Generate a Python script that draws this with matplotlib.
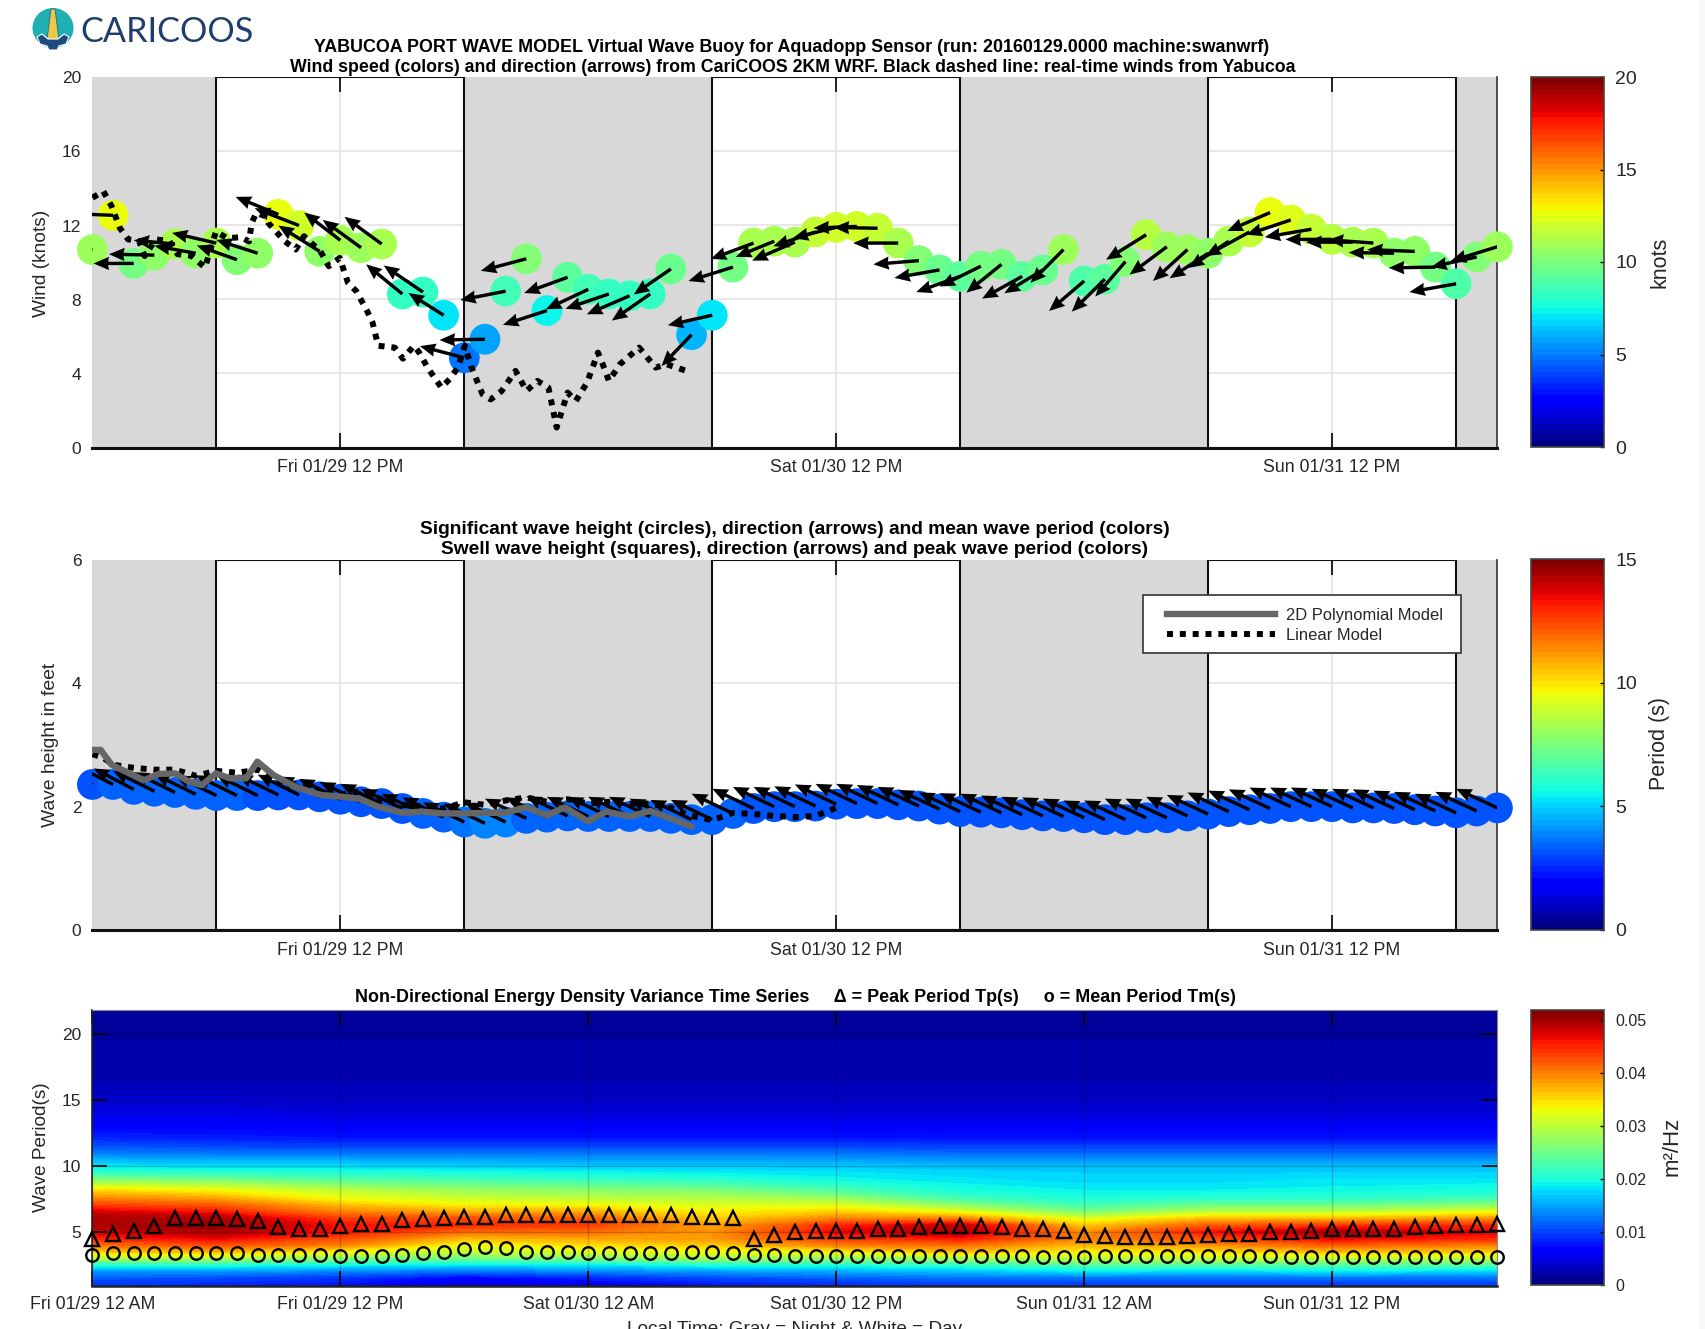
import matplotlib
matplotlib.use("Agg")
import matplotlib.pyplot as plt
import numpy as np
from matplotlib.patches import Rectangle, Ellipse, Polygon
from matplotlib.cm import ScalarMappable
from matplotlib.colors import Normalize

W, H = 1705, 1329
plt.rcParams['font.family'] = ['Liberation Sans', 'DejaVu Sans']

hours = list(range(69))
night_spans = [(0, 6), (18, 30), (42, 54), (66, 68)]

wind_speed = [10.7,12.55,9.95,10.4,11.0,10.5,11.05,10.15,10.5,12.6,12.0,10.6,11.2,10.8,11.0,8.3,8.4,7.15,4.85,5.85,
              8.45,10.2,7.4,9.2,8.55,8.3,8.2,8.3,9.65,6.1,7.15,9.75,11.05,11.15,11.1,11.65,11.9,11.95,11.85,11.05,
              10.1,9.6,9.25,9.8,9.9,9.25,9.6,10.7,9.0,9.1,10.05,11.5,10.85,10.7,10.5,11.15,11.65,12.7,12.3,11.8,
              11.25,11.1,11.05,10.5,10.6,9.75,8.85,10.3,10.85]
wind_dx = [-2.2,-2.2,-1.95,-2.2,-2.0,-2.0,-2.15,-1.95,-2.0,-2.07,-2.15,-2.0,-1.75,-1.85,-1.8,-1.75,-1.9,-1.7,-2.15,-2.2,
           -2.2,-2.2,-2.13,-2.1,-2.05,-2.1,-2.07,-1.86,-1.8,-1.46,-2.15,-2.15,-2.07,-1.86,-2.07,-2.05,-2.1,-2.1,-2.13,-2.18,
           -2.2,-2.18,-2.13,-2.0,-1.7,-1.94,-1.86,-1.6,-1.7,-1.6,-1.46,-1.94,-1.8,-1.67,-1.86,-1.94,-2.13,-2.07,-2.15,-2.26,
           -2.26,-2.26,-2.2,-2.2,-2.3,-2.26,-2.26,-2.2,-2.26]
wind_dy = [0.0,0.1,0.0,0.05,0.2,0.4,0.55,0.77,0.72,0.95,0.93,1.4,1.5,1.5,1.47,1.6,1.44,1.2,0.63,-0.04,
           -0.48,-0.65,-0.77,-0.85,-1.08,-0.8,-1.0,-1.44,-1.38,-1.7,-0.54,-0.75,-0.86,-0.85,-1.0,-0.77,-0.58,-0.09,0.05,0.0,
           -0.2,-0.43,-0.85,-1.1,-1.53,-1.2,-1.26,-1.8,-1.62,-1.76,-1.89,-1.35,-1.5,-1.7,-1.35,-1.44,-1.3,-1.0,-0.8,-0.43,
           0.0,0.0,0.18,0.04,0.1,-0.04,-0.45,-0.54,-0.77]
obs_hours = [0,.53,.93,1.33,1.73,2.26,2.53,3.06,3.72,4.12,4.79,5.45,5.98,6.52,7.18,7.58,7.71,7.93,8.38,8.51,
             9.31,9.84,10.24,11.04,11.44,11.97,12.37,12.77,13.3,13.56,13.83,14.63,15.03,15.56,15.82,16.22,16.89,17.29,17.69,18.03,
             18.35,18.88,19.28,19.81,20.48,21.01,21.54,22.07,22.47,23.0,23.4,23.94,24.47,24.73,25.0,25.53,26.46,27.26,27.79,28.99]
obs_wind = [13.5,13.85,13.04,11.86,11.25,11.16,10.35,11.25,11.16,10.45,10.36,9.73,11.68,11.31,11.37,11.14,12.14,12.68,12.5,12.14,
            11.15,10.7,11.42,10.6,9.8,10.25,8.9,8.45,7.37,6.75,5.5,5.4,4.8,5.5,5.13,4.32,3.24,3.7,4.32,5.5,
            4.32,2.88,2.6,3.06,4.14,3.06,3.6,3.24,1.08,2.97,2.52,3.51,5.13,4.41,3.6,4.5,5.4,4.32,4.5,4.05]

wave_height = [2.36,2.36,2.28,2.25,2.23,2.2,2.18,2.18,2.18,2.19,2.19,2.16,2.12,2.08,2.05,1.97,1.89,1.83,1.75,1.73,
               1.75,1.81,1.83,1.85,1.84,1.84,1.84,1.84,1.81,1.79,1.79,1.89,1.97,2.0,2.0,2.01,2.04,2.05,2.05,2.03,
               2.01,1.96,1.92,1.91,1.9,1.87,1.85,1.84,1.82,1.79,1.79,1.82,1.82,1.85,1.88,1.92,1.95,1.97,2.0,2.0,
               2.0,1.98,1.98,1.97,1.95,1.93,1.9,1.93,1.98]
wave_dx = [-2.0,-2.0,-1.94,-2.0,-2.0,-2.0,-2.0,-2.0,-2.0,-2.0,-2.0,-2.0,-2.0,-2.0,-2.0,-2.0,-2.0,-2.0,-2.0,-2.0,
           -2.0,-2.0,-2.0,-2.0,-2.0,-2.0,-2.0,-2.0,-2.0,-2.0,-2.0,-2.0,-2.0,-2.0,-2.0,-2.0,-2.0,-2.0,-2.0,-2.0,
           -2.0,-2.0,-2.0,-2.0,-2.0,-2.0,-2.0,-2.0,-2.0,-2.0,-2.0,-2.0,-2.0,-2.0,-2.0,-2.0,-2.0,-2.0,-2.0,-2.0,
           -2.0,-2.0,-2.0,-2.0,-2.0,-2.0,-2.0,-2.0,-2.0]
wave_dy = [.34,.34,.34,.33,.33,.33,.33,.33,.33,.33,.33,.33,.33,.32,.32,.32,.32,.32,.32,.32,
           .32,.32,.32,.32,.32,.32,.32,.32,.32,.32,.32,.32,.32,.32,.32,.32,.32,.32,.32,.32,
           .31,.31,.31,.31,.31,.31,.31,.31,.31,.31,.31,.31,.31,.31,.31,.31,.31,.31,.31,.31,
           .31,.31,.31,.31,.31,.31,.31,.31,.31]
poly_hours = [0,.4,.93,1.6,2.5,3.2,4,4.65,5.3,5.98,6.65,7.45,7.98,8.78,9.84,11.04,12.1,12.9,13.83,15.03,
              15.96,16.97,17.98,18.99,19.94,21,22,22.87,23.99,24.87,26,27,27.98,28.99]
poly_model = [2.92,2.92,2.68,2.57,2.43,2.53,2.54,2.41,2.35,2.54,2.46,2.46,2.73,2.51,2.32,2.19,2.16,2.13,2.0,1.9,
              1.92,1.89,1.89,1.9,1.9,1.99,1.86,1.99,1.76,1.92,1.84,1.93,1.81,1.68]
linear_hours = [0,.5,1,2,3,4,5,6,7,8,9,10,11,12,13,14,15,16,17,18,19,20,21,22,23,24,25,26,27,28,29,30,31,32,33,34,35,36]
linear_model = [2.85,2.8,2.68,2.63,2.6,2.6,2.5,2.58,2.55,2.6,2.42,2.35,2.25,2.2,2.25,2.12,2.03,2.0,1.97,2.07,
                2.03,2.1,2.15,2.08,2.12,2.05,2.08,2.05,2.05,1.98,1.85,1.78,1.9,1.88,1.85,1.83,1.85,1.98]

peak_period = [4.47,4.8,5.05,5.43,6.04,6.04,6.04,5.94,5.81,5.35,5.18,5.25,5.43,5.56,5.63,5.86,5.94,6.04,6.14,6.14,
               6.24,6.24,6.24,6.24,6.24,6.24,6.24,6.24,6.24,6.14,6.14,6.04,4.49,4.77,4.97,5.05,5.05,5.05,5.18,5.25,
               5.38,5.43,5.48,5.48,5.35,5.23,5.18,5.05,4.75,4.67,4.59,4.59,4.59,4.67,4.75,4.8,4.87,4.97,4.97,5.05,
               5.18,5.18,5.25,5.25,5.38,5.43,5.53,5.53,5.61]
mean_period = [3.28,3.41,3.41,3.41,3.41,3.41,3.41,3.41,3.28,3.28,3.28,3.28,3.15,3.15,3.15,3.28,3.41,3.48,3.71,3.86,
               3.78,3.48,3.48,3.48,3.41,3.41,3.41,3.41,3.41,3.48,3.48,3.41,3.28,3.28,3.15,3.15,3.15,3.2,3.2,3.2,
               3.2,3.2,3.2,3.2,3.2,3.2,3.1,3.1,3.1,3.2,3.2,3.2,3.2,3.2,3.2,3.2,3.2,3.2,3.1,3.1,
               3.1,3.1,3.1,3.1,3.1,3.1,3.1,3.1,3.1]

spec_hours = [0,6,12,18,24,30,36,42,48,54,60,68]
spec_periods = [0.9,1.5,2,2.5,3,3.5,4,4.5,5,5.5,6,6.5,7,7.5,8,8.5,9,9.5,10,11,12,13,14,16,18,22]
spec_energy = [
 [.009,.008,.007,.004,.005,.007,.008,.009,.009,.009,.009,.009],
 [.011,.010,.009,.006,.008,.010,.011,.012,.012,.012,.012,.012],
 [.014,.014,.013,.012,.013,.014,.015,.016,.018,.017,.018,.017],
 [.020,.020,.019,.018,.018,.020,.020,.021,.023,.023,.023,.023],
 [.029,.029,.026,.025,.026,.028,.027,.028,.030,.030,.030,.030],
 [.036,.037,.034,.030,.032,.033,.034,.037,.034,.035,.037,.036],
 [.041,.043,.040,.033,.035,.036,.040,.041,.037,.039,.042,.040],
 [.045,.047,.043,.037,.038,.039,.044,.046,.040,.043,.047,.045],
 [.048,.050,.046,.041,.041,.039,.047,.050,.039,.046,.050,.047],
 [.050,.051,.046,.045,.044,.038,.045,.049,.036,.042,.044,.045],
 [.050,.050,.044,.043,.042,.036,.040,.040,.032,.037,.037,.039],
 [.048,.046,.040,.038,.038,.034,.036,.033,.026,.030,.030,.033],
 [.044,.0425,.037,.034,.0335,.032,.032,.027,.0225,.025,.025,.027],
 [.040,.0385,.033,.031,.030,.0295,.028,.0225,.020,.021,.021,.0225],
 [.0365,.0345,.031,.0285,.0275,.027,.024,.020,.019,.019,.0195,.020],
 [.0315,.030,.027,.0255,.0245,.0235,.021,.019,.018,.018,.0185,.019],
 [.0255,.025,.023,.022,.021,.0205,.019,.018,.0175,.0175,.018,.018],
 [.021,.0205,.020,.0195,.019,.0185,.018,.0175,.017,.017,.017,.017],
 [.018,.0175,.0175,.017,.0165,.0165,.0165,.016,.016,.016,.016,.016],
 [.0125,.012,.012,.012,.012,.012,.012,.0115,.0115,.0115,.0115,.0115],
 [.0085,.008,.0075,.0075,.0075,.0075,.0075,.0075,.0075,.0075,.0075,.0075],
 [.006,.006,.0055,.0055,.0055,.0055,.0055,.0055,.0055,.0055,.0055,.0055],
 [.0045,.0045,.004,.004,.004,.004,.004,.004,.004,.004,.004,.004],
 [.0025,.0025,.0025,.0025,.0025,.0025,.0025,.0025,.0025,.0025,.0025,.0025],
 [.002,.002,.002,.002,.002,.002,.002,.002,.002,.002,.002,.002],
 [.001,.001,.001,.001,.001,.001,.001,.001,.001,.001,.001,.001],
]

ticks_12pm = [12, 36, 60]
labels_12pm = ['Fri 01/29 12 PM', 'Sat 01/30 12 PM', 'Sun 01/31 12 PM']
ticks_all = [0, 12, 24, 36, 48, 60]
labels_all = ['Fri 01/29 12 AM', 'Fri 01/29 12 PM', 'Sat 01/30 12 AM', 'Sat 01/30 12 PM', 'Sun 01/31 12 AM', 'Sun 01/31 12 PM']

TXT = '#262626'
jet = matplotlib.colormaps['jet'].resampled(64)
fig = plt.figure(figsize=(W / 100, H / 100), dpi=100, facecolor='white')
fig.add_artist(Rectangle((1699 / W, 0), 6 / W, 1, transform=fig.transFigure, facecolor='#f8f8f8', edgecolor='none'))


def axpx(x0, y0, x1, y1, **kw):
    return fig.add_axes([x0 / W, 1 - y1 / H, (x1 - x0) / W, (y1 - y0) / H], **kw)


def label(x, y, s, **kw):
    kw.setdefault('ha', 'center')
    kw.setdefault('va', 'center')
    kw.setdefault('color', TXT)
    return fig.text(x / W, 1 - y / H, s, **kw)


def day_night_axes(ax, ymax, yticks):
    ax.set_xlim(0, 68)
    ax.set_ylim(0, ymax)
    ax.set_axisbelow(True)
    ax.grid(True, color='#e0e0e0', lw=1.1)
    ax.set_xticks(ticks_12pm, labels_12pm)
    ax.set_yticks(yticks)
    ax.tick_params(axis='x', direction='in', length=11, width=1.2, top=True, color='black',
                   labelsize=12.8, labelcolor=TXT, pad=8.5)
    ax.tick_params(axis='y', direction='in', length=0, labelsize=12.5, labelcolor=TXT, pad=8)
    for a, b in night_spans:
        ax.axvspan(a, b, facecolor='#d8d8d8', edgecolor='none', zorder=1)
    for a, b in [(6, 18), (30, 42), (54, 66)]:
        ax.add_patch(Rectangle((a, 0), b - a, ymax, fill=False, edgecolor='#111111', lw=1.5, zorder=1.5))
    for s in ['left', 'top']:
        ax.spines[s].set_visible(False)
    ax.spines['right'].set_color('#333333')
    ax.spines['right'].set_linewidth(1.2)
    ax.spines['bottom'].set_color('#111111')
    ax.spines['bottom'].set_linewidth(2.2)


arrow_kw = dict(angles='xy', scale_units='xy', scale=1, units='dots', width=3.4, headwidth=3.9,
                headlength=4.6, headaxislength=4.3, color='black', pivot='tail')
dot_style = dict(color='black', lw=4.3, ls=(0, (1.0, 1.15)), dash_capstyle='butt')

# Panel 1: wind
ax1 = axpx(92.4, 77.5, 1497.4, 447.5)
day_night_axes(ax1, 20, [0, 4, 8, 12, 16, 20])
ax1.scatter(hours, wind_speed, c=wind_speed, cmap=jet, vmin=0, vmax=20, s=490, linewidths=0, clip_on=False, zorder=3)
ax1.plot(obs_hours, obs_wind, zorder=4, **dot_style)
ax1.quiver(hours, wind_speed, wind_dx, wind_dy, zorder=5, **arrow_kw)

# Panel 2: waves
ax2 = axpx(92.4, 560, 1497.4, 930)
day_night_axes(ax2, 6, [0, 2, 4, 6])
ax2.scatter(hours, wave_height, c=mean_period, cmap=jet, vmin=0, vmax=15, s=490, linewidths=0, clip_on=False, zorder=3)
ax2.quiver(hours, wave_height, wave_dx, wave_dy, zorder=4, **arrow_kw)
ax2.plot(linear_hours, linear_model, zorder=5, label='Linear Model', **dot_style)
ax2.plot(poly_hours, poly_model, color='#666666', lw=4.6, zorder=6, label='2D Polynomial Model')
ax2.add_patch(Rectangle((1143, 1329 - 653), 318, 58, transform=None, facecolor='white', edgecolor='#333333',
                        lw=1.2, zorder=7))
h_, l_ = ax2.get_legend_handles_labels()
leg = ax2.legend(h_[::-1], l_[::-1], loc='lower left', bbox_to_anchor=((1163.5 - 92.4) / 1405, (930 - 646.5) / 370),
                 borderaxespad=0, borderpad=0.2, frameon=False, fontsize=11.9, handlelength=6.55,
                 handletextpad=0.68, labelspacing=0.33)
leg.set_zorder(8)
for t in leg.get_texts():
    t.set_color(TXT)

# Panel 3: spectrum
ax3 = axpx(92.4, 1010, 1497.4, 1286)
ax3.contourf(spec_hours, spec_periods, spec_energy, levels=np.linspace(0, 0.052, 65), cmap='jet', extend='both')
ax3.plot(hours, peak_period, ls='none', marker='^', ms=10, mfc='none', mec='black', mew=1.7, clip_on=False, zorder=5)
ax3.plot(hours, mean_period, ls='none', marker='o', ms=9, mfc='none', mec='black', mew=1.7, clip_on=False, zorder=5)
ax3.set_xlim(0, 68)
ax3.set_ylim(0.9, 21.8)
ax3.set_xticks(ticks_all, labels_all)
ax3.set_yticks([5, 10, 15, 20])
ax3.grid(True, color='black', alpha=0.18, lw=1)
ax3.tick_params(axis='x', direction='in', length=11, width=1.2, top=True, labelsize=12.8, labelcolor=TXT, pad=7)
ax3.tick_params(axis='y', direction='in', length=11, width=1.2, right=True, labelsize=12.5, labelcolor=TXT, pad=8)
for s in ax3.spines.values():
    s.set_color('#222222')
ax3.spines['top'].set_color('#888888')
ax3.spines['right'].set_color('#888888')
ax3.spines['bottom'].set_linewidth(1.8)
ax3.spines['left'].set_linewidth(1.2)


def colorbar(y0, y1, vmax, ticks, fs, ticklabels=None):
    cax = axpx(1531, y0, 1604, y1)
    cb = fig.colorbar(ScalarMappable(Normalize(0, vmax), jet), cax=cax)
    cb.set_ticks(ticks)
    if ticklabels:
        cb.set_ticklabels(ticklabels)
    cb.ax.tick_params(direction='in', length=3, width=1, labelsize=fs, labelcolor=TXT, pad=8)
    cb.outline.set_edgecolor('#444444')
    cb.outline.set_linewidth(1.2)
    return cb


colorbar(77, 447, 20, [0, 5, 10, 15, 20], 14)
colorbar(559, 930, 15, [0, 5, 10, 15], 14)
colorbar(1010, 1285, 0.0518, [0, .01, .02, .03, .04, .05], 11.5, ['0', '0.01', '0.02', '0.03', '0.04', '0.05'])

# Text
label(791.6, 47.5, 'YABUCOA PORT WAVE MODEL Virtual Wave Buoy for Aquadopp Sensor (run: 20160129.0000 machine:swanwrf)',
      fontsize=12.9, fontweight='bold', color='black')
label(793, 67.5, 'Wind speed (colors) and direction (arrows) from CariCOOS 2KM WRF. Black dashed line: real-time winds from Yabucoa',
      fontsize=12.8, fontweight='bold', color='black')
label(795, 529, 'Significant wave height (circles), direction (arrows) and mean wave period (colors)',
      fontsize=13.8, fontweight='bold', color='black')
label(795, 549, 'Swell wave height (squares), direction (arrows) and peak wave period (colors)',
      fontsize=13.8, fontweight='bold', color='black')
label(795, 997, 'Non-Directional Energy Density Variance Time Series     \u0394 = Peak Period Tp(s)     o = Mean Period Tm(s)',
      fontsize=12.9, fontweight='bold', color='black')
label(795, 1329, 'Local Time: Gray = Night & White = Day', fontsize=13.7)
label(42, 263, 'Wind (knots)', rotation=90, fontsize=13.8)
label(51, 745, 'Wave height in feet', rotation=90, fontsize=13.9)
label(42, 1147, 'Wave Period(s)', rotation=90, fontsize=13.7)
label(1660, 262, 'knots', rotation=90, fontsize=15.5)
label(1660, 744, 'Period (s)', rotation=90, fontsize=15.5)
label(1672, 1146, 'm\u00b2/Hz', rotation=90, fontsize=16)

# Logo
logo = axpx(30, 6, 78, 54)
logo.set_xlim(0, 48)
logo.set_ylim(48, 0)
logo.axis('off')
logo.add_patch(Ellipse((23, 22), 41, 40, facecolor='#1fb0b4', edgecolor='none'))
logo.add_patch(Polygon([[21, 3], [25, 3], [29, 34], [17, 34]], facecolor='#e8c94a', edgecolor='#2f5f8a', lw=0.6))
logo.add_patch(Ellipse((23, 34), 20, 6, facecolor='#e8c94a', edgecolor='none'))
logo.add_patch(Polygon([[7, 31], [12, 28], [18, 33], [28, 33], [34, 28], [39, 31], [36, 38], [29, 40], [27, 44],
                        [19, 44], [17, 40], [10, 38]], facecolor='#1f4a7c', edgecolor='white', lw=0.8))
label(80, 32, 'CARICOOS', ha='left', fontsize=24.7, color='#1f3c6e', family=['Lato', 'DejaVu Sans'])

fig.savefig('out.png', dpi=100)
